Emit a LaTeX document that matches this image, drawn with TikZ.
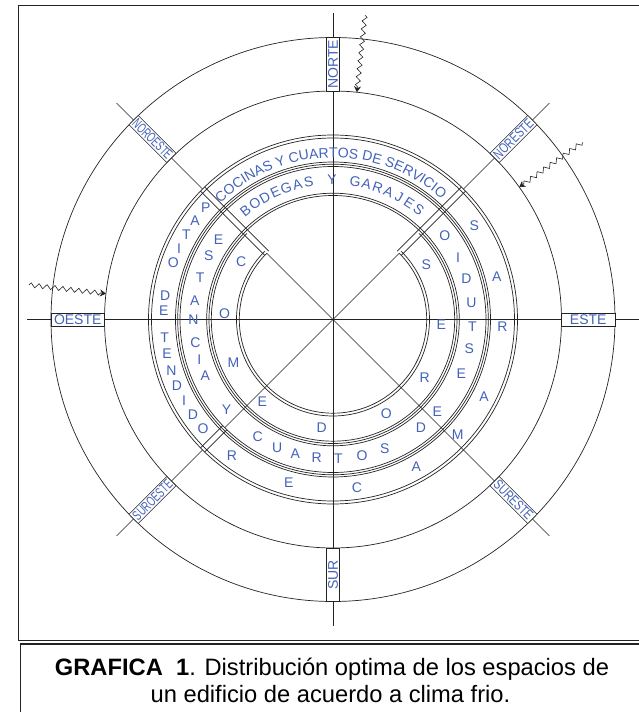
\documentclass[tikz,border=0pt]{standalone}
\usepackage{fontspec}
\setmainfont{Liberation Sans}
\usetikzlibrary{decorations.pathmorphing,decorations.text,arrows.meta}
\definecolor{bandblue}{RGB}{66,98,186}
\definecolor{linegray}{RGB}{35,35,35}
\tikzset{
  ring/.style={draw=linegray, line width=0.7pt},
  axisline/.style={draw=linegray, line width=0.6pt},
  dirbox/.style={draw=linegray, fill=white, line width=0.6pt, minimum width=53.5pt,
    minimum height=13pt, inner sep=0pt, text=bandblue, font=\fontsize{14}{14}\selectfont},
  letter/.style={text=bandblue, inner sep=0pt, font=\fontsize{14}{14}\selectfont},
  wave/.style={draw=linegray, line width=0.6pt, decorate,
    decoration={zigzag, segment length=8pt, amplitude=2.3pt, post length=5pt},
    -{Stealth[length=6pt,width=7pt]}},
  captext/.style={anchor=base, inner sep=0pt, font=\fontsize{23.7}{27}\selectfont},
}
\begin{document}
\begin{tikzpicture}[x=1pt,y=1pt]
\useasboundingbox (-333,-392.5) rectangle (306,319.5);

% marco y pie
\draw[linegray, line width=0.8pt] (-314.3,-320.5) rectangle (312,314.5);
\draw[linegray, line width=1.6pt] (-312.6,-400) |- (312,-324.5);

% ejes
\foreach \a in {0,90,180,270,315}
  \draw[axisline] (0,0) -- (\a:306);
\foreach \a in {45,135}{
  \draw[axisline] (0,0) -- (\a:93.7);
  \draw[axisline] (\a:184.5) -- (\a:306);
}
\draw[axisline] (0,0) -- (225:153);
\draw[axisline] (225:184.5) -- (225:306);

% anillos
\foreach \r in {282,228.5,184.5,181.5,157.5,155.3,153,126.3,124}
  \draw[ring] (0,0) circle[radius=\r];
\foreach \r in {121.7,96.5,93.7}
  \draw[ring] (135:\r) arc[start angle=135, end angle=405, radius=\r];

% separaciones
\foreach \a in {45,135}{
  \begin{scope}[rotate=\a]
  \draw[ring] (93.7,3) -- (184.5,3) (93.7,-3) -- (184.5,-3);
  \end{scope}
}
\begin{scope}[rotate=225]
\draw[ring] (153,3) -- (184.5,3) (153,-3) -- (184.5,-3);
\end{scope}

% orientaciones
\node[dirbox, rotate=90] (norte) at (90:255.25) {NORTE};
\node[dirbox, rotate=90] (sur) at (270:255.25) {SUR};
\node[dirbox] (oeste) at (180:255.25) {OESTE};
\node[dirbox] (este) at (0:255.25) {ESTE};
\node[dirbox, rotate=-45] (noroeste) at (135:255.25) {\scalebox{0.64}[1]{NOROESTE}};
\node[dirbox, rotate=45] (noreste) at (45:255.25) {\scalebox{0.74}[1]{NORESTE}};
\node[dirbox, rotate=45] (suroeste) at (225:255.25) {\scalebox{0.65}[1]{SUROESTE}};
\node[dirbox, rotate=-45] (sureste) at (315:255.25) {\scalebox{0.75}[1]{SURESTE}};

% espacios
\path[decorate, decoration={text along path, text align=center, text color=bandblue,
  text={|\fontsize{14}{16}\selectfont|COCINAS Y CUARTOS DE SERVICIO}}]
  (140:162) arc[start angle=140, end angle=42, radius=162];
\foreach \i/\t in {0/B,1/O,2/D,3/E,4/G,5/A,6/S,8/Y,10/G,11/A,12/R,13/A,14/J,15/E,16/S}
  \node[letter, rotate={38.8-4.794*\i}] (bodega\i) at ({128.8-4.794*\i}:139.5) {\t};
\foreach \a/\t [count=\i] in {138.6/P,144.5/A,149.8/T,155.3/I,160.5/O,171.9/D,177/E,
    186.3/T,191.6/E,197.6/N,203/D,208.5/I,214.2/D,220/O}
  \node[letter] (patio\i) at (\a:169.5) {\t};
\foreach \a/\t [count=\i] in {233.4/R,254.9/E,278.1/C,299.4/A,317.4/M,333.1/A,357.5/R,
    14.8/A,33.6/S}
  \node[letter] (recamara\i) at (\a:169.5) {\t};
\foreach \a/\t [count=\i] in {145.1/E,152.9/S,162.4/T,172.1/A,180.2/N,189.6/C,196.7/I,
    203.8/A,220.3/Y,237.3/C,246.4/U,254.3/A,263.3/R,272.2/T,282/O,291.8/S,309.1/D,
    318.4/E,337/E,347.8/S,357/T,6.8/U,16.9/D,26.2/I,36.7/O}
  \node[letter] (estancia\i) at (\a:139.5) {\t};
\foreach \a/\t [count=\i] in {147.9/C,176.8/O,203.4/M,229.3/E,264/D,299.4/O,327.6/R,
    357/E,30.6/S}
  \node[letter] (comedor\i) at (\a:108.5) {\t};

% vientos
\coordinate (vientoN) at (84:306);
\coordinate (vientoNfin) at (84:228.5);
\coordinate (vientoO) at (173.5:306);
\coordinate (vientoOfin) at (173.5:228.5);
\coordinate (vientoNE) at (35.4:306);
\coordinate (vientoNEfin) at (35.4:228.5);
\draw[wave] (vientoN) -- (vientoNfin);
\draw[wave] (vientoO) -- (vientoOfin);
\draw[wave] (vientoNE) -- (vientoNEfin);

% pie
\node[captext] (pie1) at (-1,-355.5) {\textbf{GRAFICA\ \ 1}. Distribución optima de los espacios de};
\node[captext] (pie2) at (-2.5,-382.5) {un edificio de acuerdo a clima frio.};
\end{tikzpicture}
\end{document}
